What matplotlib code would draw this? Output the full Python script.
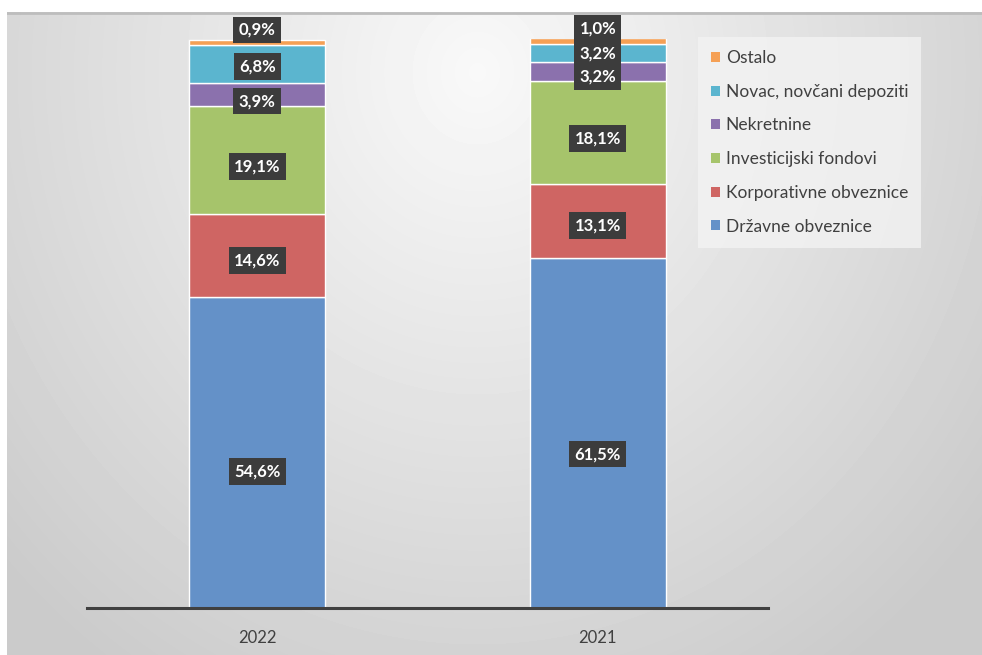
import numpy as np
import matplotlib as mpl
mpl.use('Agg')
import matplotlib.pyplot as plt
from matplotlib.patches import Patch

plt.rcParams['font.family'] = ['Lato', 'DejaVu Sans']

# podaci
godine = ['2022', '2021']
kategorije = ['Državne obveznice', 'Korporativne obveznice', 'Investicijski fondovi',
              'Nekretnine', 'Novac, novčani depoziti', 'Ostalo']
udjeli_2022 = [54.6, 14.6, 19.1, 3.9, 6.8, 0.9]
udjeli_2021 = [61.5, 13.1, 18.1, 3.2, 3.2, 1.0]
boje = ['#6491c8', '#cf6563', '#a6c46b', '#8b71ad', '#5bb5cf', '#f5a055']

W, H = 982, 655
fig = plt.figure(figsize=(W / 100, H / 100), dpi=100)
fig.patch.set_facecolor('white')

# pozadina s gradijentom
bg = fig.add_axes([7 / W, 0, (W - 7) / W, (H - 12) / H])
yy, xx = np.mgrid[0:643, 0:975]
d = np.sqrt(((xx - 470) / 650.0) ** 2 + ((yy - 60) / 720.0) ** 2)
d = np.clip(d, 0, 1)
siva = 0.975 - 0.18 * d
bg.imshow(siva, cmap='gray', vmin=0, vmax=1, aspect='auto', interpolation='bilinear')
bg.axhline(0, color='#bdbdbd', lw=2)
bg.set_axis_off()

ax = fig.add_axes([87 / W, 1 - 608 / H, (768 - 87) / W, (608 - 39) / H])
ax.patch.set_alpha(0)

x = np.arange(len(godine))
podaci = np.array([udjeli_2022, udjeli_2021]).T
dno = np.zeros(len(godine))
for i, kat in enumerate(kategorije):
    ax.bar(x, podaci[i], 0.4, bottom=dno, color=boje[i], edgecolor='white',
           linewidth=1, label=kat)
    for j in range(len(godine)):
        v = podaci[i][j]
        # oznake su malo ispod sredine segmenta
        if v > 5:
            yc = dno[j] + v * 0.44
        else:
            yc = dno[j] + v / 2
        if kat == 'Nekretnine':
            yc = dno[j] + v * 0.2
        if kat == 'Ostalo':
            yc = dno[j] + v + 1.7
        ax.text(x[j], yc, ('%.1f%%' % v).replace('.', ','), ha='center', va='center',
                color='white', fontsize=12, fontweight='bold', clip_on=False,
                zorder=20 - i,
                bbox=dict(boxstyle='square,pad=0.32', fc='#3c3c3c', ec='none'))
    dno = dno + podaci[i]

ax.set_xlim(-0.5, 1.5)
ax.set_ylim(0, 100)
ax.set_xticks(x)
ax.set_xticklabels(godine, fontsize=12, color='#404040')
ax.tick_params(axis='x', length=0, pad=16)
ax.set_yticks([])
for s in ['top', 'right', 'left']:
    ax.spines[s].set_visible(False)
ax.spines['bottom'].set_color('#404040')
ax.spines['bottom'].set_linewidth(2.2)

rucke = [Patch(facecolor=boje[i], label=kategorije[i]) for i in range(len(kategorije))][::-1]
leg = fig.legend(handles=rucke, loc='upper left', bbox_to_anchor=(698 / W, 1 - 37 / H),
                 borderaxespad=0, frameon=True, fontsize=12.5, labelcolor='#404040',
                 handlelength=0.5, handleheight=0.5, handletextpad=0.35, labelspacing=1.02,
                 borderpad=0.75, fancybox=False)
leg.get_frame().set_facecolor('#f3f3f3')
leg.get_frame().set_edgecolor('none')
leg.get_frame().set_alpha(0.8)

plt.savefig('out.png', dpi=100)
